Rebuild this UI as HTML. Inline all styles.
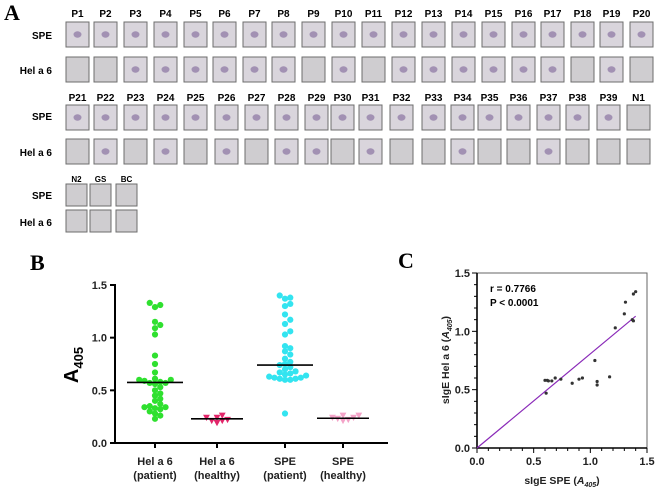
<!DOCTYPE html>
<html><head><meta charset="utf-8"><style>
body{margin:0;background:#fff}
svg{display:block;font-family:"Liberation Sans",Arial,sans-serif}
</style></head><body>
<svg id="fig" width="660" height="491" viewBox="0 0 660 491">
<g id="panelA"></g>
<g id="panelB"></g>
<g id="panelC"></g>
</svg>
<script>
const NS="http://www.w3.org/2000/svg";
function mk(p,t,a,txt){const e=document.createElementNS(NS,t);for(const k in a)e.setAttribute(k,a[k]);if(txt!==undefined)e.textContent=txt;p.appendChild(e);return e;}

// ---- Panel A data ----
const row1Labels=["P1","P2","P3","P4","P5","P6","P7","P8","P9","P10","P11","P12","P13","P14","P15","P16","P17","P18","P19","P20"];
const row1X=[66,94,124,154,184,213,243,272,302,332,362,392,422,452,482,512,541,571,600,630];
const row1SpeCell=[1,1,1,1,1,1,1,1,1,1,1,1,1,1,1,1,1,1,1,1];
const row1HelCell=[0,0,1,1,1,1,1,1,0,1,0,1,1,1,1,1,1,0,1,0];
const row2Labels=["P21","P22","P23","P24","P25","P26","P27","P28","P29","P30","P31","P32","P33","P34","P35","P36","P37","P38","P39","N1"];
const row2X=[66,94,124,154,184,215,245,275,305,331,359,390,422,451,478,507,537,566,597,627];
const row2SpeCell=[1,1,1,1,1,1,1,1,1,1,1,1,1,1,1,1,1,1,1,0];
const row2HelCell=[0,1,0,1,0,1,0,1,1,0,1,0,0,1,0,0,1,0,0,0];
const row3Labels=["N2","GS","BC"];
const row3X=[66,90,116];

const A=document.getElementById("panelA");
let t=mk(A,"text",{x:4,y:20,"font-family":"Liberation Serif,serif","font-size":22,"font-weight":"bold"},"A");


function rowLabel(y,txt){const e=mk(A,"text",{x:52,y:y,"font-size":10,"font-weight":"bold","text-anchor":"end"},txt);

}
function drawRow(labels,xs,cellsS,cellsH,labY,yS,yH,w,h,fs){
 labels.forEach((l,i)=>{
  const lt=mk(A,"text",{x:xs[i]+w/2,y:labY,"font-size":fs,"font-weight":"bold","text-anchor":"middle"},l);
  
  
  [[yS,cellsS],[yH,cellsH]].forEach(([y,cells])=>{
   const has=cells?cells[i]:0;
   const r=mk(A,"rect",{x:xs[i],y:y,width:w,height:h,fill:has?"#d9d5dc":"#cfcdd0",stroke:"#6d6d6d","stroke-width":1});
   
   
   if(has){const c=mk(A,"ellipse",{cx:xs[i]+w/2,cy:y+h/2,rx:4,ry:3.2,fill:"#8f7aa6",opacity:0.75});
    
    }
  });
 });
}
rowLabel(39,"SPE");rowLabel(74,"Hel a 6");
drawRow(row1Labels,row1X,row1SpeCell,row1HelCell,17,22,57,23,25,10);
rowLabel(120,"SPE");rowLabel(156,"Hel a 6");
drawRow(row2Labels,row2X,row2SpeCell,row2HelCell,101,105,139,23,25,10);
rowLabel(199,"SPE");rowLabel(226,"Hel a 6");
drawRow(row3Labels,row3X,null,null,182,184,210,21,22,8);

// ---- Panel B data ----
const bCategories=["Hel a 6|(patient)","Hel a 6|(healthy)","SPE|(patient)","SPE|(healthy)"];
const helPatient=[1.33,1.31,1.29,1.15,1.12,1.09,1.03,0.83,0.75,0.67,0.61,0.60,0.60,0.59,0.58,0.57,0.57,0.56,0.53,0.50,0.47,0.45,0.42,0.40,0.37,0.35,0.34,0.34,0.33,0.32,0.30,0.28,0.26,0.23];
const helHealthy=[0.21,0.24,0.26,0.21,0.22,0.24,0.19];
const spePatient=[1.40,1.38,1.37,1.32,1.30,1.22,1.17,1.13,1.06,1.03,0.92,0.90,0.87,0.84,0.80,0.77,0.75,0.74,0.72,0.70,0.68,0.67,0.66,0.65,0.64,0.63,0.62,0.62,0.61,0.61,0.60,0.60,0.28];
const speHealthy=[0.22,0.24,0.26,0.24,0.23,0.26,0.21];
const bMedians=[0.575,0.23,0.74,0.235];
const bTicks=[0,0.5,1.0,1.5];

const B=document.getElementById("panelB");
const bx0=115,bx1=388,by0=443,by1=285;
const byS=v=>by0-(v/1.5)*(by0-by1);
const bCatX=[155,217,285,343];
t=mk(B,"text",{x:30,y:270,"font-family":"Liberation Serif,serif","font-size":22,"font-weight":"bold"},"B");


let ax=mk(B,"line",{x1:bx0,y1:by1-1,x2:bx0,y2:by0+1,stroke:"#000","stroke-width":2});


ax=mk(B,"line",{x1:bx0-1,y1:by0,x2:bx1,y2:by0,stroke:"#000","stroke-width":2});


bTicks.forEach(v=>{
 const tk=mk(B,"line",{x1:bx0-5,y1:byS(v),x2:bx0,y2:byS(v),stroke:"#000","stroke-width":2});
 
 
 const tl=mk(B,"text",{x:bx0-8,y:byS(v)+4,"font-size":11,"font-weight":"bold","text-anchor":"end",fill:"#222"},v.toFixed(1));
 
 
});
bCategories.forEach((c,i)=>{
 const tk=mk(B,"line",{x1:bCatX[i],y1:by0,x2:bCatX[i],y2:by0+5,stroke:"#000","stroke-width":2});
 
 
 const parts=c.split("|");
 parts.forEach((p,j)=>{
  const tl=mk(B,"text",{x:bCatX[i],y:465+j*14,"font-size":11,"font-weight":"bold","text-anchor":"middle",fill:"#222"},p);
  
  
 });
});
const yl=mk(B,"text",{transform:"translate(78,365) rotate(-90)","font-size":20,"font-weight":"bold","text-anchor":"middle"});


mk(yl,"tspan",{},"A");mk(yl,"tspan",{"font-size":13,dy:5},"405");

function swarm(vals,cx,r){
 const placed=[];const sorted=vals.slice().sort((a,b)=>a-b);
 return sorted.map(v=>{const y=byS(v);let k=0,x=cx;
  for(k=0;k<40;k++){const off=(k%2?1:-1)*Math.ceil(k/2)*r*1.7;x=cx+off;
   if(placed.every(p=>Math.hypot(p[0]-x,p[1]-y)>=r*1.6))break;}
  placed.push([x,y]);return [x,y];});
}
function drawDots(vals,ci,color,shape){
 swarm(vals,bCatX[ci],3.1).forEach(([x,y])=>{
  let e;
  if(shape==="circle")e=mk(B,"circle",{cx:x,cy:y,r:3.1,fill:color});
  else e=mk(B,"polygon",{points:`${x-3.4},${y-3} ${x+3.4},${y-3} ${x},${y+3.3}`,fill:color});
  
  
 });
}
drawDots(helPatient,0,"#2fe02f","circle");
drawDots(helHealthy,1,"#e2266a","tri");
drawDots(spePatient,2,"#33e4f0","circle");
drawDots(speHealthy,3,"#f4a3c8","tri");
bMedians.forEach((m,i)=>{
 const w=i%2?26:28;
 const ml=mk(B,"line",{x1:bCatX[i]-w,y1:byS(m),x2:bCatX[i]+w,y2:byS(m),stroke:"#000","stroke-width":1.6});
 
 
});

// ---- Panel C data ----
const cSpe=[0.60,0.62,0.63,0.66,0.61,0.69,0.74,0.84,0.90,0.93,1.04,1.06,1.06,1.17,1.22,1.30,1.31,1.37,1.38,1.38,1.40];
const cHel=[0.58,0.58,0.575,0.575,0.47,0.60,0.59,0.555,0.59,0.60,0.75,0.57,0.54,0.61,1.03,1.15,1.25,1.10,1.09,1.32,1.34];
const cTicks=[0,0.5,1.0,1.5];
const cFit=[[0,0],[1.4,1.13]];

const C=document.getElementById("panelC");
const cx0=477,cx1=647,cy0=448,cy1=273;
const cxS=v=>cx0+v/1.5*(cx1-cx0), cyS=v=>cy0-v/1.5*(cy0-cy1);
t=mk(C,"text",{x:398,y:268,"font-family":"Liberation Serif,serif","font-size":22,"font-weight":"bold"},"C");


const fr=mk(C,"rect",{x:cx0,y:cy1,width:cx1-cx0,height:cy0-cy1,fill:"none",stroke:"#666","stroke-width":1});


ax=mk(C,"line",{x1:cx0,y1:cy1,x2:cx0,y2:cy0,stroke:"#000","stroke-width":1.6});


ax=mk(C,"line",{x1:cx0,y1:cy0,x2:cx1,y2:cy0,stroke:"#000","stroke-width":1.6});


for(let v=0;v<=1.5001;v+=0.1){
 const major=Math.abs(v*2-Math.round(v*2))<1e-6;const L=major?5:3;
 let tk=mk(C,"line",{x1:cx0-L,y1:cyS(v),x2:cx0,y2:cyS(v),stroke:"#000","stroke-width":1});
 
 
 tk=mk(C,"line",{x1:cxS(v),y1:cy0,x2:cxS(v),y2:cy0+L,stroke:"#000","stroke-width":1});
 
 
}
cTicks.forEach(v=>{
 let tl=mk(C,"text",{x:cx0-7,y:cyS(v)+4,"font-size":11,"font-weight":"bold","text-anchor":"end",fill:"#222"},v.toFixed(1));
 
 
 tl=mk(C,"text",{x:cxS(v),y:cy0+17,"font-size":11,"font-weight":"bold","text-anchor":"middle",fill:"#222"},v.toFixed(1));
 
 
});
const fl=mk(C,"line",{x1:cxS(cFit[0][0]),y1:cyS(cFit[0][1]),x2:cxS(cFit[1][0]),y2:cyS(cFit[1][1]),stroke:"#8a2ab8","stroke-width":1.2});


cSpe.forEach((v,i)=>{
 const d=mk(C,"circle",{cx:cxS(v),cy:cyS(cHel[i]),r:1.6,fill:"#333"});
 
 
});
t=mk(C,"text",{x:490,y:292,"font-size":10,"font-weight":"bold"},"r = 0.7766");


t=mk(C,"text",{x:490,y:306,"font-size":10,"font-weight":"bold"},"P < 0.0001");


const xt=mk(C,"text",{x:562,y:484,"font-size":10.5,"font-weight":"bold","text-anchor":"middle",fill:"#222"});


mk(xt,"tspan",{},"sIgE SPE (");mk(xt,"tspan",{"font-style":"italic"},"A");mk(xt,"tspan",{"font-size":7,dy:3,"font-style":"italic"},"405");mk(xt,"tspan",{dy:-3},")");
const yt=mk(C,"text",{transform:"translate(449,360) rotate(-90)","font-size":10.5,"font-weight":"bold","text-anchor":"middle",fill:"#222"});


mk(yt,"tspan",{},"sIgE Hel a 6 (");mk(yt,"tspan",{"font-style":"italic"},"A");mk(yt,"tspan",{"font-size":7,dy:3,"font-style":"italic"},"405");mk(yt,"tspan",{dy:-3},")");
</script>
</body></html>
